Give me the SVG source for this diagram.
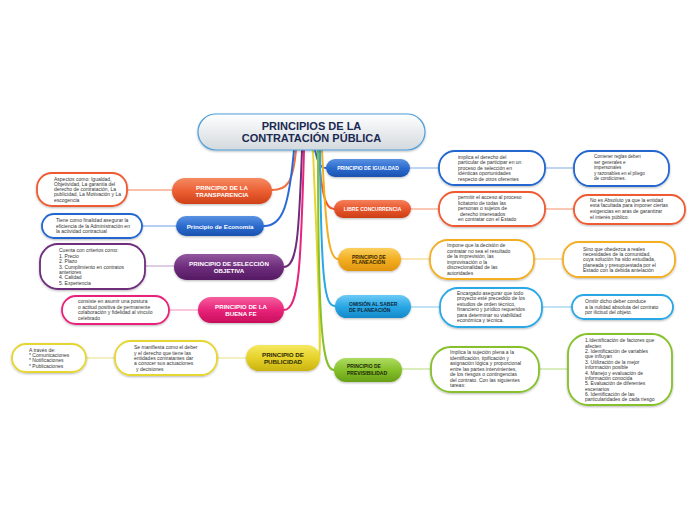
<svg xmlns="http://www.w3.org/2000/svg" width="696" height="520" viewBox="0 0 696 520">
<defs>
<filter id="sh" x="-10%" y="-20%" width="120%" height="150%"><feDropShadow dx="0" dy="1" stdDeviation="0.8" flood-color="#000" flood-opacity="0.28"/></filter>
<linearGradient id="gRoot" x1="0" y1="0" x2="0" y2="1"><stop offset="0" stop-color="#ffffff"/><stop offset="1" stop-color="#d3d9dd"/></linearGradient>
<linearGradient id="gOr" x1="0" y1="0" x2="0" y2="1"><stop offset="0" stop-color="#f58a62"/><stop offset="0.5" stop-color="#ec6034"/><stop offset="1" stop-color="#cf4016"/></linearGradient>
<linearGradient id="gBl" x1="0" y1="0" x2="0" y2="1"><stop offset="0" stop-color="#5a92e2"/><stop offset="0.5" stop-color="#2d6ccf"/><stop offset="1" stop-color="#1a52b0"/></linearGradient>
<linearGradient id="gPu" x1="0" y1="0" x2="0" y2="1"><stop offset="0" stop-color="#93579f"/><stop offset="0.5" stop-color="#6e2d7c"/><stop offset="1" stop-color="#551a63"/></linearGradient>
<linearGradient id="gPk" x1="0" y1="0" x2="0" y2="1"><stop offset="0" stop-color="#f55f9e"/><stop offset="0.5" stop-color="#e8237a"/><stop offset="1" stop-color="#c80f5a"/></linearGradient>
<linearGradient id="gYe" x1="0" y1="0" x2="0" y2="1"><stop offset="0" stop-color="#f5e860"/><stop offset="0.5" stop-color="#e6d22a"/><stop offset="1" stop-color="#c9b210"/></linearGradient>
<linearGradient id="gRe" x1="0" y1="0" x2="0" y2="1"><stop offset="0" stop-color="#f5805a"/><stop offset="0.5" stop-color="#e8562c"/><stop offset="1" stop-color="#cc3e16"/></linearGradient>
<linearGradient id="gAm" x1="0" y1="0" x2="0" y2="1"><stop offset="0" stop-color="#fad060"/><stop offset="0.5" stop-color="#f3ae22"/><stop offset="1" stop-color="#e0940e"/></linearGradient>
<linearGradient id="gCy" x1="0" y1="0" x2="0" y2="1"><stop offset="0" stop-color="#6ccaf5"/><stop offset="0.5" stop-color="#2aa8e6"/><stop offset="1" stop-color="#1588c8"/></linearGradient>
<linearGradient id="gGr" x1="0" y1="0" x2="0" y2="1"><stop offset="0" stop-color="#aedb62"/><stop offset="0.5" stop-color="#86c02a"/><stop offset="1" stop-color="#66a016"/></linearGradient>
</defs>
<style>
.mn{filter:url(#sh)}
.dt{fill:#fff;stroke-width:1.8;filter:url(#sh)}
.t{font-family:"Liberation Sans",Arial,sans-serif;font-size:5px;fill:#333}
.tw{font-family:"Liberation Sans",Arial,sans-serif;font-size:6.2px;font-weight:bold;fill:#fff;text-anchor:middle}
.tr{font-family:"Liberation Sans",Arial,sans-serif;font-size:5px;font-weight:bold}
.c{fill:none;stroke-width:2;stroke-linecap:round}
.h{fill:none;stroke-width:1.3}
</style>

<g id="connectors">
<path class="c" stroke="#f07040" d="M296 150 C293 183,287 190,272 190"/>
<path class="c" stroke="#2a6ad8" d="M294 150 C289 205,283 226,264 226"/>
<path class="c" stroke="#6e2d7c" d="M302 150 C299 235,297 267,284 267"/>
<path class="c" stroke="#e8237a" d="M304 150 C301 255,300 310,284 310"/>
<path class="c" stroke="#e6d630" d="M313 150 C317 250,322 350,319 357"/>
<path class="c" stroke="#2a6ad8" d="M315 150 C318 163,320 168,326 168"/>
<path class="c" stroke="#f05a30" d="M318 150 C322 195,325 209,334 209"/>
<path class="c" stroke="#f3ae22" d="M322 150 C326 235,329 259,338 259"/>
<path class="c" stroke="#2aa8e6" d="M320 150 C321 285,325 306,335 306"/>
<path class="c" stroke="#86c02a" d="M318 150 C318 335,323 370,334 370"/>
<line class="h" stroke="#f8ab8c" x1="127" y1="190" x2="172" y2="190"/>
<line class="h" stroke="#9dbfec" x1="142" y1="226" x2="176" y2="226"/>
<line class="h" stroke="#cdb0d4" x1="145" y1="266" x2="174" y2="266"/>
<line class="h" stroke="#f8aacb" x1="169" y1="310" x2="198" y2="310"/>
<line class="h" stroke="#efe79c" x1="86" y1="358" x2="115" y2="358"/>
<line class="h" stroke="#efe79c" x1="217" y1="358" x2="246" y2="358"/>
<line class="h" stroke="#9dbfec" x1="410" y1="168" x2="439" y2="168"/>
<line class="h" stroke="#9dbfec" x1="545" y1="168" x2="574" y2="168"/>
<line class="h" stroke="#f8ab8c" x1="411" y1="209" x2="439" y2="209"/>
<line class="h" stroke="#f8ab8c" x1="545" y1="209" x2="574" y2="209"/>
<line class="h" stroke="#f8d98e" x1="401" y1="259" x2="430" y2="259"/>
<line class="h" stroke="#f8d98e" x1="534" y1="259" x2="563" y2="259"/>
<line class="h" stroke="#9ed6f2" x1="411" y1="307" x2="440" y2="307"/>
<line class="h" stroke="#9ed6f2" x1="542" y1="307" x2="572" y2="307"/>
<line class="h" stroke="#c5e39a" x1="402" y1="369" x2="431" y2="369"/>
<line class="h" stroke="#c5e39a" x1="539" y1="369" x2="568" y2="369"/>
</g>

<g id="root">
<rect x="198" y="114" width="227" height="36" rx="18" fill="url(#gRoot)" stroke="#4d9fdc" stroke-width="1.2" filter="url(#sh)"/>
<text font-family="'Liberation Sans',Arial,sans-serif" font-size="11px" font-weight="bold" fill="#1b2a52" text-anchor="middle"><tspan x="311.5" y="130">PRINCIPIOS DE LA</tspan><tspan x="311.5" y="142">CONTRATACIÓN PÚBLICA</tspan></text>
</g>

<g id="transparencia">
<rect class="mn" x="172" y="178" width="100" height="26" rx="13" fill="url(#gOr)"/>
<text class="tw"><tspan x="222" y="189.7">PRINCIPIO DE LA</tspan><tspan x="222" y="196.7">TRANSPARENCIA</tspan></text>
</g>
<g id="transparencia-detalle">
<rect class="dt" x="37" y="173" width="90" height="33" rx="15" stroke="#f05a30"/>
<text class="t"><tspan x="54" y="180.5">Aspectos como: Igualdad,</tspan><tspan x="54" y="185.8">Objetividad, La garantía del</tspan><tspan x="54" y="191.1">derecho de contratación, La</tspan><tspan x="54" y="196.4">publicidad, La Motivación y La</tspan><tspan x="54" y="201.7">escogencia</tspan></text>
</g>

<g id="economia">
<rect class="mn" x="176" y="216" width="88" height="20" rx="10" fill="url(#gBl)"/>
<text class="tw" x="220" y="228.7">Principio de Economía</text>
</g>
<g id="economia-detalle">
<rect class="dt" x="42" y="214" width="100" height="24" rx="12" stroke="#2266d0"/>
<text class="t"><tspan x="56" y="222">Tiene como finalidad asegurar la</tspan><tspan x="56" y="227.6">eficiencia de la Administración en</tspan><tspan x="56" y="233">la actividad contractual</tspan></text>
</g>

<g id="seleccion">
<rect class="mn" x="174" y="254" width="110" height="26" rx="13" fill="url(#gPu)"/>
<text class="tw"><tspan x="229" y="265.7">PRINCIPIO DE SELECCIÓN</tspan><tspan x="229" y="272.7">OBJETIVA</tspan></text>
</g>
<g id="seleccion-detalle">
<rect class="dt" x="40" y="244" width="105" height="45" rx="18" stroke="#6e2d7c"/>
<text class="t"><tspan x="59" y="252.4">Cuenta con criterios como:</tspan><tspan x="59" y="257.8">1. Precio</tspan><tspan x="59" y="263.2">2. Plazo</tspan><tspan x="59" y="268.6">3. Cumplimiento en contratos</tspan><tspan x="59" y="274">anteriores</tspan><tspan x="59" y="279.4">4. Calidad</tspan><tspan x="59" y="284.8">5. Experiencia</tspan></text>
</g>

<g id="buena-fe">
<rect class="mn" x="198" y="297" width="86" height="26" rx="13" fill="url(#gPk)"/>
<text class="tw"><tspan x="241" y="308.7">PRINCIPIO DE LA</tspan><tspan x="241" y="315.7">BUENA FE</tspan></text>
</g>
<g id="buena-fe-detalle">
<rect class="dt" x="62" y="296" width="107" height="28" rx="14" stroke="#e8237a"/>
<text class="t"><tspan x="78" y="303">consiste en asumir una postura</tspan><tspan x="78" y="308.6">o actitud positiva de permanente</tspan><tspan x="78" y="314.2">colaboración y fidelidad al vinculo</tspan><tspan x="78" y="319.8">celebrado</tspan></text>
</g>

<g id="publicidad">
<rect class="mn" x="246" y="345" width="74" height="26" rx="13" fill="url(#gYe)"/>
<text class="tw" style="fill:#2e2a08"><tspan x="283" y="356.7">PRINCIPIO DE</tspan><tspan x="283" y="363.7">PUBLICIDAD</tspan></text>
</g>
<g id="publicidad-detalle">
<rect class="dt" x="115" y="341" width="102" height="34" rx="16" stroke="#e6d630"/>
<text class="t"><tspan x="134" y="349.4">Se manifiesta como el deber</tspan><tspan x="134" y="354.7">y el derecho que tiene las</tspan><tspan x="134" y="360">entidades contratantes dar</tspan><tspan x="134" y="365.3">a conocer sus actuaciones</tspan><tspan x="136" y="370.6">y decisiones</tspan></text>
</g>
<g id="publicidad-medios">
<rect class="dt" x="12" y="344" width="74" height="28" rx="14" stroke="#e6d630"/>
<text class="t"><tspan x="29" y="351.7">A través de:</tspan><tspan x="29" y="357">* Comunicaciones</tspan><tspan x="29" y="362.3">* Notificaciones</tspan><tspan x="29" y="367.6">* Publicaciones</tspan></text>
</g>

<g id="igualdad">
<rect class="mn" x="326" y="159" width="84" height="18" rx="9" fill="url(#gBl)"/>
<text class="tr" fill="#fff" text-anchor="middle" x="368" y="169.8">PRINCIPIO DE IGUALDAD</text>
</g>
<g id="igualdad-detalle">
<rect class="dt" x="439" y="151" width="106" height="34" rx="16" stroke="#2266d0"/>
<text class="t"><tspan x="458" y="158.7">implica el derecho del</tspan><tspan x="458" y="164.2">particular de participar en un</tspan><tspan x="458" y="169.7">proceso de selección en</tspan><tspan x="458" y="175.2">idénticas oportunidades</tspan><tspan x="458" y="180.7">respecto de otros oferentes</tspan></text>
</g>
<g id="igualdad-reglas">
<rect class="dt" x="574" y="151" width="95" height="35" rx="16" stroke="#2266d0"/>
<text class="t" style="font-size:4.6px"><tspan x="594" y="158.4">Contener reglas deben</tspan><tspan x="594" y="163.9">ser generales e</tspan><tspan x="594" y="169.4">impersonales</tspan><tspan x="594" y="174.9">y razonables en el pliego</tspan><tspan x="594" y="180.4">de condiciones.</tspan></text>
</g>

<g id="concurrencia">
<rect class="mn" x="334" y="200" width="77" height="18" rx="9" fill="url(#gRe)"/>
<text class="tr" fill="#fff" text-anchor="middle" x="372.5" y="210.8">LIBRE CONCURRENCIA</text>
</g>
<g id="concurrencia-detalle">
<rect class="dt" x="439" y="192" width="106" height="34" rx="16" stroke="#f05a30"/>
<text class="t"><tspan x="458" y="199">permitir el acceso al proceso</tspan><tspan x="458" y="204.6">licitatorio de todas las</tspan><tspan x="458" y="210.2">personas o sujetos de</tspan><tspan x="460" y="215.8">derecho interesados</tspan><tspan x="458" y="221.4">en contratar con el Estado</tspan></text>
</g>
<g id="concurrencia-limite">
<rect class="dt" x="574" y="195" width="111" height="29" rx="14" stroke="#f05a30"/>
<text class="t"><tspan x="590" y="201.7">No es Absoluto ya que la entidad</tspan><tspan x="590" y="207.4">esta facultada para imponer ciertas</tspan><tspan x="590" y="213.1">exigencias en aras de garantizar</tspan><tspan x="590" y="218.8">el interés público.</tspan></text>
</g>

<g id="planeacion">
<rect class="mn" x="338" y="248" width="63" height="23" rx="11.5" fill="url(#gAm)"/>
<text class="tr" fill="#3a2a05"><tspan x="352" y="258.5">PRINCIPIO DE</tspan><tspan x="352" y="264.3">PLANEACIÓN</tspan></text>
</g>
<g id="planeacion-detalle">
<rect class="dt" x="430" y="240" width="104" height="39" rx="18" stroke="#f3ae22"/>
<text class="t"><tspan x="447" y="247.4">Impone que la decisión de</tspan><tspan x="447" y="252.8">contratar no sea el resultado</tspan><tspan x="447" y="258.3">de la imprevisión, las</tspan><tspan x="447" y="263.7">improvisación o la</tspan><tspan x="447" y="269.2">discrecionalidad de las</tspan><tspan x="447" y="274.6">autoridades</tspan></text>
</g>
<g id="planeacion-necesidades">
<rect class="dt" x="563" y="242" width="112" height="35" rx="16" stroke="#f3ae22"/>
<text class="t"><tspan x="583" y="250.7">Sino que obedezca a reales</tspan><tspan x="583" y="256">necesidades de la comunidad,</tspan><tspan x="583" y="261.3">cuya solución ha sido estudiada,</tspan><tspan x="583" y="266.6">planeada y presupuestada por el</tspan><tspan x="583" y="271.9">Estado con la debida antelación</tspan></text>
</g>

<g id="omision">
<rect class="mn" x="335" y="295" width="76" height="23" rx="11.5" fill="url(#gCy)"/>
<text class="tr" fill="#0d2a40"><tspan x="349" y="305.5">OMISIÓN AL SABER</tspan><tspan x="349" y="311.8">DE PLANEACIÓN</tspan></text>
</g>
<g id="omision-detalle">
<rect class="dt" x="440" y="288" width="102" height="39" rx="18" stroke="#2aa8e6"/>
<text class="t"><tspan x="457" y="295">Encargado asegurar que todo</tspan><tspan x="457" y="300.4">proyecto esté precedido de los</tspan><tspan x="457" y="305.8">estudios de orden  técnico,</tspan><tspan x="457" y="311.2">financiero y jurídico requeridos</tspan><tspan x="457" y="316.6">para determinar su viabilidad</tspan><tspan x="457" y="322">económica y técnica.</tspan></text>
</g>
<g id="omision-nulidad">
<rect class="dt" x="572" y="295" width="101" height="24" rx="12" stroke="#2aa8e6"/>
<text class="t"><tspan x="585" y="303.4">Omitir dicho deber conduce</tspan><tspan x="585" y="308.9">a la nulidad absoluta del contrato</tspan><tspan x="585" y="314.4">por ilicitud del objeto.</tspan></text>
</g>

<g id="previsibilidad">
<rect class="mn" x="334" y="358" width="68" height="24" rx="12" fill="url(#gGr)"/>
<text class="tr" fill="#1e2a08"><tspan x="347" y="368.3">PRINCIPIO DE</tspan><tspan x="347" y="374.5">PREVISIBILIDAD</tspan></text>
</g>
<g id="previsibilidad-detalle">
<rect class="dt" x="431" y="347" width="108" height="45" rx="20" stroke="#86c02a"/>
<text class="t"><tspan x="450" y="354.4">Implica la sujeción plena a la</tspan><tspan x="450" y="359.9">identificación, tipificación y</tspan><tspan x="450" y="365.4">asignación lógica y proporcional</tspan><tspan x="450" y="370.9">entre las partes intervinientes,</tspan><tspan x="450" y="376.4">de los riesgos o contingencias</tspan><tspan x="450" y="381.9">del contrato. Con las siguientes</tspan><tspan x="450" y="387.4">tareas:</tspan></text>
</g>
<g id="previsibilidad-tareas">
<rect class="dt" x="568" y="334" width="104" height="71" rx="20" stroke="#86c02a"/>
<text class="t"><tspan x="585" y="342.4">1.Identificación de factores que</tspan><tspan x="585" y="347.7">afecten</tspan><tspan x="585" y="353.1">2. Identificación de variables</tspan><tspan x="585" y="358.4">que influyan</tspan><tspan x="585" y="363.8">3. Utilización de la mejor</tspan><tspan x="585" y="369.1">información posible</tspan><tspan x="585" y="374.5">4. Manejo y evaluación de</tspan><tspan x="585" y="379.8">información conocida</tspan><tspan x="585" y="385.2">5. Evaluación de diferentes</tspan><tspan x="585" y="390.5">escenarios</tspan><tspan x="585" y="395.9">6. Identificación de las</tspan><tspan x="585" y="401.2">particularidades de cada riesgo</tspan></text>
</g>
</svg>
